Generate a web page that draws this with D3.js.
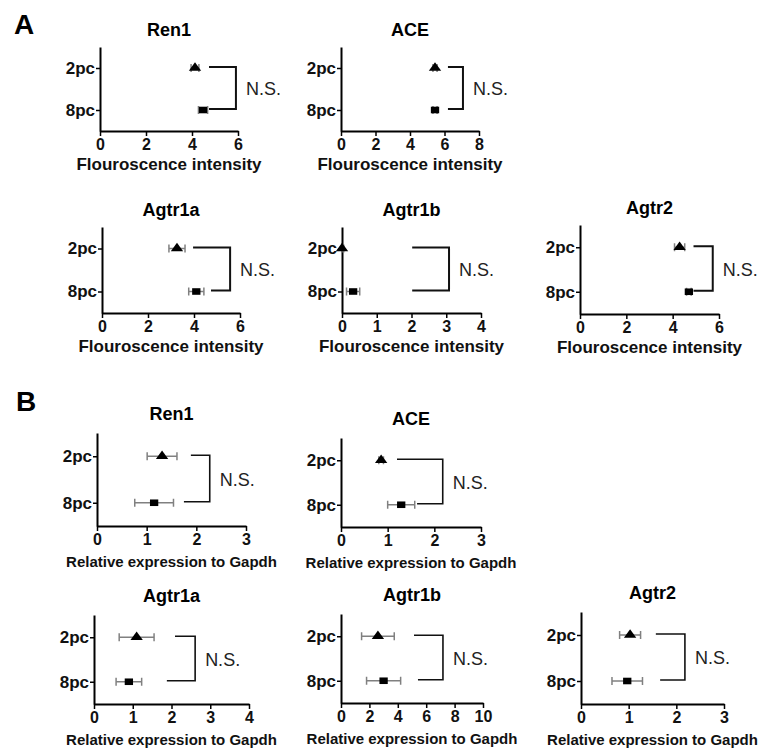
<!DOCTYPE html>
<html>
<head>
<meta charset="utf-8">
<script src="https://d3js.org/d3.v7.min.js"></script>
<style>
  body { margin: 0; background: #fff; }
  svg text { font-family: Arial, "Liberation Sans", sans-serif; }
  .axis path, .axis line { stroke: #000; }
  .axis path { stroke-width: 2; }
  .axis line { stroke-width: 1.5; }
  .axis text { font-size: 17px; font-weight: bold; fill: #111; }
</style>
</head>
<body>
<div id="chart"></div>
<script>
// groups shown on the y axis
const categories = ["2pc", "8pc"];
const genes = ["Ren1", "ACE", "Agtr1a", "Agtr1b", "Agtr2"];

// panel A: fluorescence intensity, [2pc, 8pc]
const fluorMean = [[4.13, 4.48], [5.45, 5.45], [3.26, 4.1], [0, 0.32], [4.3, 4.7]];
const fluorErr = [[0.17, 0.2], [0.12, 0.12], [0.35, 0.33], [0.05, 0.19], [0.22, 0.1]];
const fluorMax = [6, 8, 6, 4, 6];
const fluorStep = [2, 2, 2, 1, 2];
// bracket: [2pc start, 8pc start, vertical] in data units
const fluorBracket = [[4.74, 4.74, 5.91], [6.2, 6.2, 7.07], [3.96, 4.74, 5.57], [2.02, 2.02, 3.08], [4.9, 4.9, 5.73]];

// panel B: relative expression to Gapdh
const exprMean = [[1.31, 1.15], [0.86, 1.29], [1.1, 0.9], [2.6, 3.0], [1.03, 0.97]];
const exprErr = [[0.3, 0.39], [0.05, 0.29], [0.45, 0.33], [1.15, 1.2], [0.22, 0.32]];
const exprMax = [3, 3, 4, 10, 3];
const exprStep = [1, 1, 1, 2, 1];
const exprBracket = [[1.89, 1.75, 2.27], [1.2, 1.63, 2.18], [2.09, 1.88, 2.61], [5.14, 5.42, 7.18], [1.57, 1.66, 2.18]];

// plot boxes [left, right, top, bottom]
const boxesA = [[100, 238, 47, 131], [341, 479, 47, 131], [102, 240, 227, 313], [342, 481, 227, 313], [580, 719, 225, 314]];
const boxesB = [[97, 246, 433, 526], [341, 481, 438, 527], [94, 249, 615, 704], [341, 483, 614, 703], [581, 724, 612, 704]];

const svg = d3.select("#chart")
  .append("svg")
    .attr("width", 771)
    .attr("height", 749);

svg.append("text").attr("x", 14).attr("y", 34)
  .style("font-size", "28px").style("font-weight", "bold").text("A");
svg.append("text").attr("x", 16).attr("y", 411)
  .style("font-size", "28px").style("font-weight", "bold").text("B");

function drawPanel(i, box, mean, err, max, step, bracket, opts) {
  const [x0, x1, y0, y1] = box;
  const g = svg.append("g");

  const x = d3.scaleLinear().domain([0, max]).range([x0, x1]);
  const y = d3.scalePoint().domain(categories).range([y0, y1]).padding(0.5);

  g.append("g")
    .attr("class", "axis")
    .attr("transform", `translate(0,${y1})`)
    .call(d3.axisBottom(x)
      .tickValues(d3.range(0, max + step / 2, step))
      .tickFormat(d3.format("d"))
      .tickSize(5).tickSizeOuter(0).tickPadding(3))
    .selectAll("text")
      .style("font-size", opts.tickFont);

  g.append("g")
    .attr("class", "axis")
    .attr("transform", `translate(${x0},0)`)
    .call(d3.axisLeft(y).tickSize(4).tickSizeOuter(0).tickPadding(1))
    .selectAll("text")
      .style("font-size", opts.catFont);

  // title
  g.append("text")
    .attr("x", (x0 + x1) / 2)
    .attr("y", y0 - opts.titleGap)
    .attr("text-anchor", "middle")
    .style("font-size", "18px").style("font-weight", "bold")
    .text(genes[i]);

  // x label
  g.append("text")
    .attr("x", (x0 + x1) / 2)
    .attr("y", y1 + opts.labelGap)
    .attr("text-anchor", "middle")
    .style("font-size", opts.labelFont).style("font-weight", "bold")
    .style("fill", "#111")
    .text(opts.label);

  const rows = categories.map((c, k) => ({cat: c, m: mean[k], e: err[k], k: k}));

  // error bars
  const eb = g.selectAll(".eb").data(rows).enter().append("g")
    .attr("stroke", "#808080").attr("stroke-width", 1.5);
  eb.append("line")
    .attr("x1", d => x(Math.max(0, d.m - d.e))).attr("x2", d => x(d.m + d.e))
    .attr("y1", d => y(d.cat)).attr("y2", d => y(d.cat));
  eb.append("line")
    .attr("x1", d => x(Math.max(0, d.m - d.e))).attr("x2", d => x(Math.max(0, d.m - d.e)))
    .attr("y1", d => y(d.cat) - 4).attr("y2", d => y(d.cat) + 4);
  eb.append("line")
    .attr("x1", d => x(d.m + d.e)).attr("x2", d => x(d.m + d.e))
    .attr("y1", d => y(d.cat) - 4).attr("y2", d => y(d.cat) + 4);

  // markers
  g.selectAll(".mk").data(rows).enter().append("path")
    .attr("transform", d => `translate(${x(d.m)},${y(d.cat)}) scale(1.2,0.95)`)
    .attr("d", d => d3.symbol().type(d.k === 0 ? d3.symbolTriangle : d3.symbolSquare).size(d.k === 0 ? 46 : 48)())
    .attr("fill", "#000");

  // significance bracket
  const yt = y(categories[0]) - 1, yb = y(categories[1]) - 1;
  g.append("path")
    .attr("d", `M${x(bracket[0])},${yt}H${x(bracket[2])}V${yb}H${x(bracket[1])}`)
    .attr("fill", "none").attr("stroke", "#111").attr("stroke-width", opts.bracketW);

  g.append("text")
    .attr("x", x(bracket[2]) + 10)
    .attr("y", (yt + yb) / 2 + 7)
    .style("font-size", "18px").style("fill", "#222")
    .text("N.S.");
}

const optsA = {label: "Flouroscence intensity", labelFont: "17px", tickFont: "16px", catFont: "17px", titleGap: 11, labelGap: 39, bracketW: 2};
const optsB = {label: "Relative expression to Gapdh", labelFont: "15px", tickFont: "16px", catFont: "17px", titleGap: 13, labelGap: 41, bracketW: 1.6};

genes.forEach((gene, i) => {
  drawPanel(i, boxesA[i], fluorMean[i], fluorErr[i], fluorMax[i], fluorStep[i], fluorBracket[i], optsA);
  drawPanel(i, boxesB[i], exprMean[i], exprErr[i], exprMax[i], exprStep[i], exprBracket[i], optsB);
});
</script>
</body>
</html>
